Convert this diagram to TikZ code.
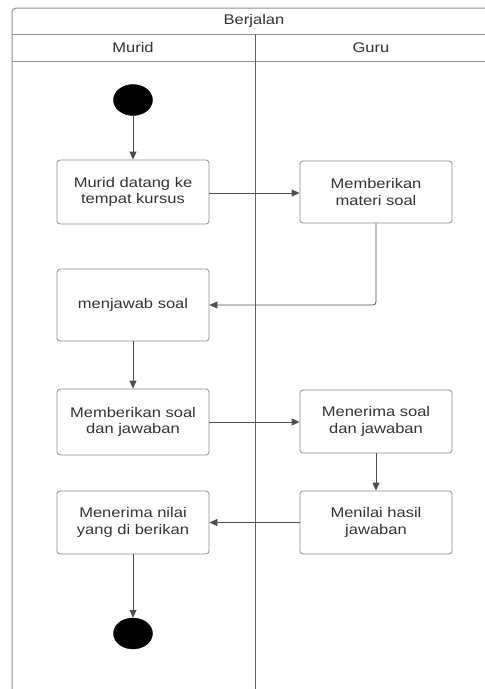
\documentclass[tikz,border=0pt]{standalone}
\usepackage{fontspec}
\setmainfont{Liberation Sans}[FakeStretch=1.18]
\usetikzlibrary{arrows.meta,shapes.geometric}

\definecolor{txt}{HTML}{333333}
\definecolor{frame}{HTML}{8E9196}
\definecolor{divider}{HTML}{5E6268}
\definecolor{boxline}{HTML}{8A8D92}
\definecolor{flow}{HTML}{4B5058}

\tikzset{
  lbl/.style={text=txt, font=\fontsize{14}{16.5}\selectfont, align=center},
  act/.style={lbl, draw=boxline, line width=0.8pt, rounded corners=3pt,
              minimum width=152pt, inner sep=2pt},
  dot/.style={ellipse, fill=black, draw=black, minimum width=39pt,
              minimum height=31pt, inner sep=0pt},
  flowline/.style={draw=flow, line width=0.8pt,
              -{Triangle[length=8pt,width=7pt]}},
}

\begin{document}
\begin{tikzpicture}[x=1pt,y=-1pt]
  \useasboundingbox (0,0) rectangle (485,689);

  % swimlane pool: title bar, lane headers and lane divider
  \draw[frame, line width=1pt, rounded corners=4pt] (500,8) -- (12,8) -- (12,700);
  \draw[frame, line width=1pt] (12,34) -- (500,34);
  \draw[frame, line width=1pt] (12,61) -- (500,61);
  \draw[divider, line width=1pt] (255,34) -- (255,700);
  \node[lbl] (pool) at (254,21) {Berjalan};
  \node[lbl] (laneA) at (133,47.5) {Murid};
  \node[lbl] (laneB) at (371,47.5) {Guru};

  % activities
  \node[dot] (start) at (133,100) {};
  \node[act, minimum height=64pt] (b1) at (133,192) {Murid datang ke\\tempat kursus};
  \node[act, minimum height=62pt] (b2) at (376,192) {Memberikan\\materi soal};
  \node[act, minimum height=72pt] (b3) at (133,305) {menjawab soal};
  \node[act, minimum height=66pt] (b4) at (133,422) {Memberikan soal\\dan jawaban};
  \node[act, minimum height=63pt] (b6) at (376,421.5) {Menerima soal\\dan jawaban};
  \node[act, minimum height=63pt] (b7) at (376,522.5) {Menilai hasil\\jawaban};
  \node[act, minimum height=63pt] (b5) at (133,522.5) {Menerima nilai\\yang di berikan};
  \node[dot] (stop) at (133,633.5) {};

  % control flow
  \draw[flowline] (start) -- (b1);
  \draw[flowline] (b1.east |- 0,193) -- (b2.west |- 0,193);
  \draw[flowline, rounded corners=3pt] (b2.south) |- (b3.east);
  \draw[flowline] (b3) -- (b4);
  \draw[flowline] (b4) -- (b6.west |- b4);
  \draw[flowline] (b6) -- (b7);
  \draw[flowline] (b7) -- (b5);
  \draw[flowline] (b5) -- (stop);
\end{tikzpicture}
\end{document}
